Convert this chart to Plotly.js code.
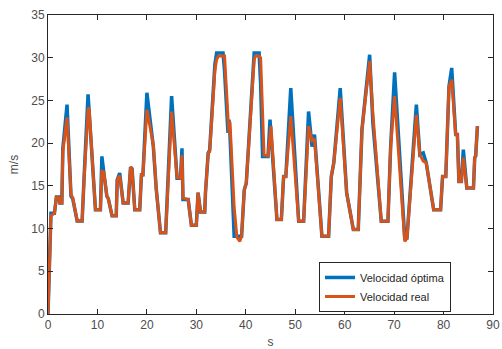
<!DOCTYPE html>
<html>
<head>
<meta charset="utf-8">
<script src="https://cdn.plot.ly/plotly-3.0.1.min.js"></script>
<style>html,body{margin:0;padding:0;background:#fff;}#chart{width:502px;height:349px;}</style>
</head>
<body>
<div id="chart"></div>
<script>
// time (s)
var time = [0,0.6,1.3,1.7,2.2,2.4,2.8,3.0,3.85,4.65,5.0,5.9,6.9,7.1,7.3,8.1,8.3,9.6,10.6,10.9,11.3,11.9,12.2,12.95,13.8,14.0,14.5,15.2,16.2,16.7,17.0,17.55,18.55,18.9,19.2,20.0,21.3,21.9,22.75,23.8,25.0,26.1,26.8,27.1,27.3,28.35,29.0,30.0,30.35,30.85,31.7,31.85,32.4,32.7,33.75,34.1,34.5,35.4,35.7,36.4,36.6,36.8,37.65,38.2,38.8,39.15,39.7,40.1,41.7,42.0,42.7,43.0,43.4,43.7,44.5,44.9,45.1,46.3,47.2,47.65,48.1,49.1,50.7,51.7,52.7,53.4,53.9,55.4,56.75,57.3,57.8,59.1,60.4,61.75,62.75,63.5,65.05,65.7,67.4,68.75,69.3,70.1,72.15,72.6,74.5,75.2,75.9,76.5,78.0,79.4,79.8,80.45,81.1,81.65,82.45,82.8,83.1,83.6,84.0,84.7,86.05,86.3,86.5,86.85];
// optimal speed (m/s)
var velOptima = [0,11.8,11.8,13.7,13.7,13.0,13.0,19.4,24.5,13.8,13.5,10.9,10.9,14.9,16.0,25.7,24.0,12.2,12.2,18.45,16.5,13.8,13.5,11.5,11.5,15.7,16.5,13.0,13.0,17.2,17.0,12.2,12.2,16.3,16.3,25.9,19.6,14.6,9.5,9.5,25.5,15.9,15.9,19.4,13.4,13.4,10.4,10.4,14.2,11.95,11.95,14.2,18.85,19.2,29.2,30.55,30.55,30.55,28.5,21.2,22.75,21.0,9.1,9.1,9.1,9.1,14.55,15.3,30.55,30.55,30.55,27.0,18.45,18.45,18.45,22.75,21.0,11.05,11.05,16.1,16.1,26.45,10.85,10.85,23.7,19.6,21.0,9.1,9.1,16.1,17.7,26.45,14.2,9.9,9.9,21.6,30.35,22.4,10.85,10.85,19.6,28.3,8.9,8.9,24.5,18.65,18.85,17.7,12.2,12.2,16.1,16.1,26.65,28.8,21.0,21.0,15.5,15.5,19.25,14.75,14.75,18.3,18.5,22.0];
// real speed (m/s)
var velReal = [0,11.5,11.8,13.7,13.6,13.0,13.0,19.0,23.0,14.0,13.6,10.9,10.9,14.5,15.8,23.8,24.2,12.2,12.2,16.7,16.6,13.8,13.5,11.5,11.5,15.7,16.2,13.0,13.0,17.2,17.0,12.2,12.2,16.3,16.3,23.9,19.8,14.6,9.5,9.5,23.7,16.0,15.9,18.6,13.6,13.4,10.4,10.4,14.2,11.95,11.95,14.2,18.85,19.0,28.5,29.8,30.2,30.2,30.2,23.0,21.2,22.5,12.5,9.0,8.5,9.1,14.55,15.3,29.8,30.2,30.2,30.0,22.0,18.6,18.5,21.2,22.0,11.05,11.05,16.1,16.1,23.15,10.85,10.85,22.0,20.3,20.5,9.1,9.1,16.1,17.7,25.3,14.2,9.9,9.9,21.6,29.6,23.5,10.85,10.85,19.6,25.5,8.5,8.9,23.3,18.65,17.9,17.7,12.2,12.2,16.1,16.1,26.65,27.4,21.0,21.0,15.5,15.5,18.3,14.75,14.75,18.3,18.5,22.0];
var seriesNames = ['Velocidad óptima', 'Velocidad real'];

var traces = [
  {x: time, y: velOptima, type: 'scatter', mode: 'lines', name: seriesNames[0],
   line: {color: '#0072BD', width: 3.5}},
  {x: time, y: velReal, type: 'scatter', mode: 'lines', name: seriesNames[1],
   line: {color: '#D95319', width: 3}}
];

var axisCommon = {
  showgrid: false, zeroline: false, showline: true, linecolor: '#262626', linewidth: 1,
  mirror: 'ticks', ticks: 'inside', ticklen: 5, tickcolor: '#262626',
  tickfont: {family: 'Liberation Sans, Arial, sans-serif', size: 12, color: '#4d4d4d'}
};

var layout = {
  width: 502, height: 349,
  margin: {l: 48, r: 9, t: 15, b: 35},
  paper_bgcolor: '#ffffff', plot_bgcolor: '#ffffff',
  showlegend: true,
  xaxis: Object.assign({}, axisCommon, {
    range: [0, 90], dtick: 10, tick0: 0,
    title: {text: 's', standoff: 8, font: {family: 'Liberation Sans, Arial, sans-serif', size: 12, color: '#4d4d4d'}}
  }),
  yaxis: Object.assign({}, axisCommon, {
    range: [0, 35], dtick: 5, tick0: 0,
    title: {text: 'm/s', standoff: 10, font: {family: 'Liberation Sans, Arial, sans-serif', size: 12, color: '#4d4d4d'}}
  }),
  legend: {
    x: 0.609, y: 0.174, xanchor: 'left', yanchor: 'top',
    bgcolor: '#ffffff', bordercolor: '#262626', borderwidth: 1,
    font: {family: 'Liberation Sans, Arial, sans-serif', size: 11, color: '#262626'},
    tracegroupgap: 0, itemwidth: 30
  }
};

Plotly.newPlot('chart', traces, layout, {displayModeBar: false, staticPlot: true});
</script>
</body>
</html>
